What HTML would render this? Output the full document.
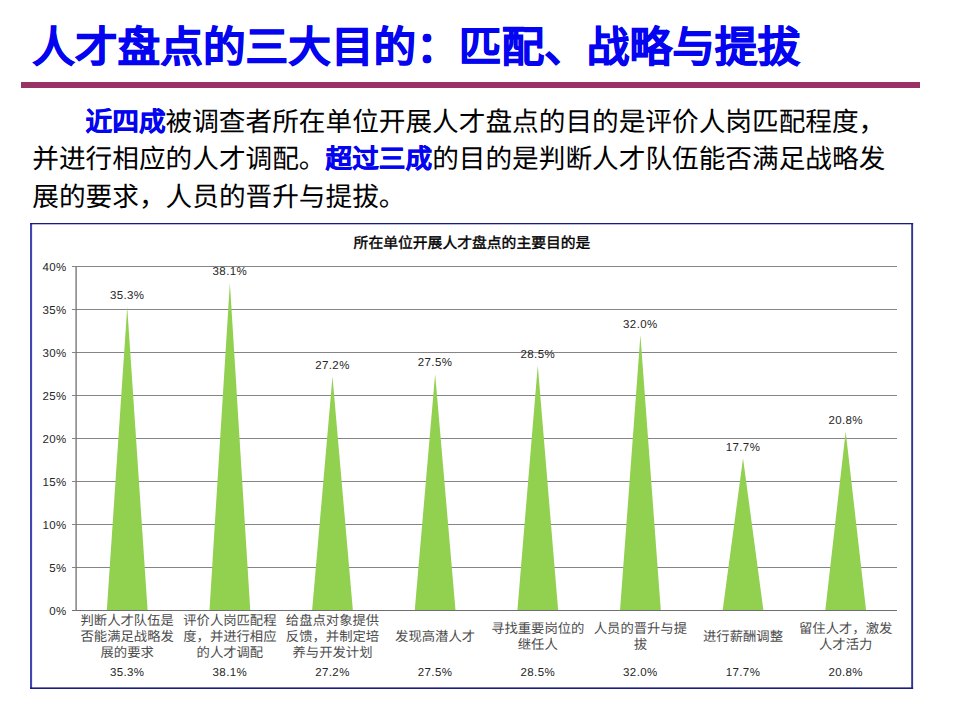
<!DOCTYPE html>
<html lang="zh-CN">
<head>
<meta charset="utf-8">
<title>人才盘点的三大目的：匹配、战略与提拔</title>
<style>
html,body{margin:0;padding:0;}
body{text-rendering:geometricPrecision;width:960px;height:720px;position:relative;overflow:hidden;background:#fff;font-family:"Liberation Sans",sans-serif;color:#000;}
h1{position:absolute;margin:0;left:32.3px;top:16.5px;font-size:42.67px;line-height:62px;font-weight:bold;color:#0404f0;white-space:nowrap;-webkit-text-stroke:0.7px #0404f0;}
.rule{position:absolute;left:20.5px;top:82px;width:899.5px;height:6px;background:#993366;}
.body{position:absolute;margin:0;left:32.3px;top:103.5px;font-size:26.67px;line-height:37.5px;white-space:nowrap;color:#000;}
.body b{color:#0404f0;-webkit-text-stroke:0.4px #0404f0;}
.ind{display:inline-block;width:53.3px;}
svg{position:absolute;left:0;top:0;}
.ct{position:absolute;left:272px;width:400px;top:233.5px;text-align:center;font-family:"Liberation Serif",serif;font-weight:normal;-webkit-text-stroke:0.4px #000;font-size:14.8px;line-height:20px;white-space:nowrap;}
.yl{position:absolute;left:22.6px;width:44px;text-align:right;font-size:11.5px;letter-spacing:.4px;line-height:14px;color:#262626;}
.dl{position:absolute;width:80px;text-align:center;font-size:11.5px;letter-spacing:.4px;line-height:14px;color:#262626;}
.cl{position:absolute;width:110px;text-align:center;font-family:"Liberation Serif",serif;font-size:13.33px;line-height:16px;color:#4d4d4d;white-space:nowrap;}
</style>
</head>
<body>
<h1>人才盘点的三大目的：匹配、战略与提拔</h1>
<div class="rule"></div>
<p class="body"><span class="ind"></span><b>近四成</b>被调查者所在单位开展人才盘点的目的是评价人岗匹配程度，<br>并进行相应的人才调配。<b>超过三成</b>的目的是判断人才队伍能否满足战略发<br>展的要求，人员的晋升与提拔。</p>
<svg width="960" height="720" viewBox="0 0 960 720">
<rect x="30" y="223" width="883" height="466" fill="#fff"/>
<rect x="30" y="223" width="2.1" height="466" fill="#4444b2"/>
<rect x="911.2" y="223" width="1.9" height="466" fill="#34348f"/>
<rect x="30" y="223" width="883.1" height="1.3" fill="#1a1a80"/>
<rect x="30" y="687.4" width="883.1" height="1.6" fill="#1a1a80"/>
<g stroke="#858585" stroke-width="1.15" fill="none">
<line x1="72" y1="567.46" x2="897.0" y2="567.46"/>
<line x1="72" y1="524.46" x2="897.0" y2="524.46"/>
<line x1="72" y1="481.47" x2="897.0" y2="481.47"/>
<line x1="72" y1="438.48" x2="897.0" y2="438.48"/>
<line x1="72" y1="395.48" x2="897.0" y2="395.48"/>
<line x1="72" y1="352.49" x2="897.0" y2="352.49"/>
<line x1="72" y1="309.49" x2="897.0" y2="309.49"/>
<line x1="72" y1="266.50" x2="897.0" y2="266.50"/>
</g>
<g fill="#92d050">
<polygon points="106.82,610.45 127.22,306.91 147.62,610.45"/>
<polygon points="209.46,610.45 229.86,282.84 250.26,610.45"/>
<polygon points="312.09,610.45 332.49,376.56 352.89,610.45"/>
<polygon points="414.73,610.45 435.13,373.98 455.53,610.45"/>
<polygon points="517.37,610.45 537.77,365.39 558.17,610.45"/>
<polygon points="620.01,610.45 640.41,335.29 660.81,610.45"/>
<polygon points="722.64,610.45 743.04,458.25 763.44,610.45"/>
<polygon points="825.28,610.45 845.68,431.60 866.08,610.45"/>
</g>
<line x1="72" y1="610.45" x2="897.0" y2="610.45" stroke="#707070" stroke-width="1.1"/>
<line x1="76.1" y1="266.5" x2="76.1" y2="610.45" stroke="#787878" stroke-width="1.4"/>
</svg>
<div class="ct">所在单位开展人才盘点的主要目的是</div>
<div class="yl" style="top:605.0px">0%</div>
<div class="yl" style="top:562.0px">5%</div>
<div class="yl" style="top:519.0px">10%</div>
<div class="yl" style="top:476.0px">15%</div>
<div class="yl" style="top:433.0px">20%</div>
<div class="yl" style="top:390.0px">25%</div>
<div class="yl" style="top:347.0px">30%</div>
<div class="yl" style="top:304.0px">35%</div>
<div class="yl" style="top:261.0px">40%</div>
<div class="dl" style="left:87.2px;top:289.3px">35.3%</div>
<div class="dl" style="left:189.9px;top:265.2px">38.1%</div>
<div class="dl" style="left:292.5px;top:359.0px">27.2%</div>
<div class="dl" style="left:395.1px;top:356.4px">27.5%</div>
<div class="dl" style="left:497.8px;top:347.8px">28.5%</div>
<div class="dl" style="left:600.4px;top:317.7px">32.0%</div>
<div class="dl" style="left:703.0px;top:440.7px">17.7%</div>
<div class="dl" style="left:805.7px;top:414.0px">20.8%</div>
<div class="cl" style="left:72.2px;top:612.5px">判断人才队伍是<br>否能满足战略发<br>展的要求</div>
<div class="cl" style="left:174.9px;top:612.5px">评价人岗匹配程<br>度，并进行相应<br>的人才调配</div>
<div class="cl" style="left:277.5px;top:612.5px">给盘点对象提供<br>反馈，并制定培<br>养与开发计划</div>
<div class="cl" style="left:380.1px;top:628.5px">发现高潜人才</div>
<div class="cl" style="left:482.8px;top:620.5px">寻找重要岗位的<br>继任人</div>
<div class="cl" style="left:585.4px;top:620.5px">人员的晋升与提<br>拔</div>
<div class="cl" style="left:688.0px;top:628.5px">进行薪酬调整</div>
<div class="cl" style="left:790.7px;top:620.5px">留住人才，激发<br>人才活力</div>
<div class="dl" style="left:87.2px;top:666.3px">35.3%</div>
<div class="dl" style="left:189.9px;top:666.3px">38.1%</div>
<div class="dl" style="left:292.5px;top:666.3px">27.2%</div>
<div class="dl" style="left:395.1px;top:666.3px">27.5%</div>
<div class="dl" style="left:497.8px;top:666.3px">28.5%</div>
<div class="dl" style="left:600.4px;top:666.3px">32.0%</div>
<div class="dl" style="left:703.0px;top:666.3px">17.7%</div>
<div class="dl" style="left:805.7px;top:666.3px">20.8%</div>
</body>
</html>
